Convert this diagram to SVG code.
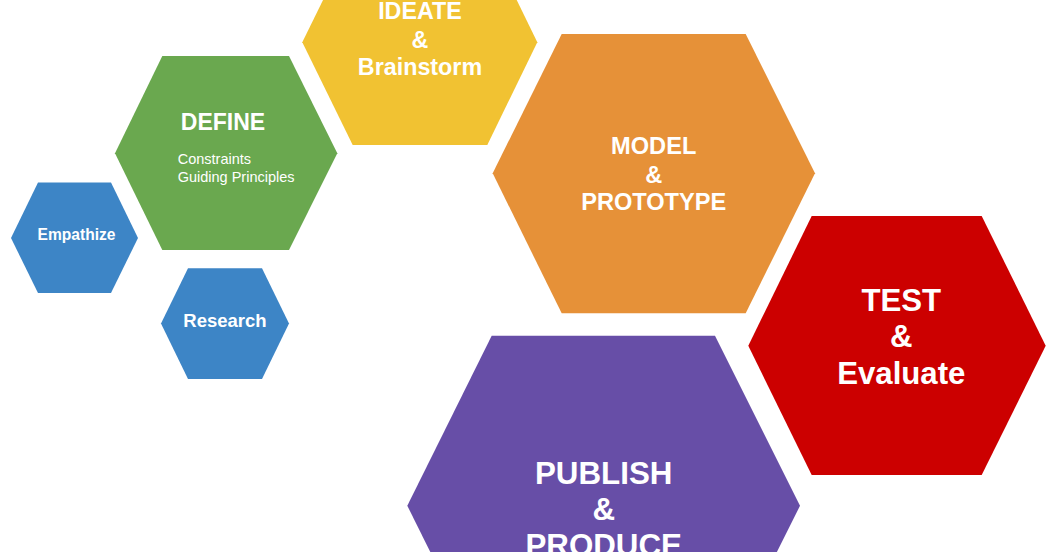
<svg xmlns="http://www.w3.org/2000/svg" width="1052" height="552" viewBox="0 0 1052 552">
  <style>
    text { font-family: "Liberation Sans", Arial, sans-serif; fill: #ffffff; }
    .b { font-weight: bold; text-anchor: middle; }
    .sub { font-size: 14.5px; }
    .blue { fill: #3d85c6; }
    .green { fill: #6aa84f; }
    .yellow { fill: #f1c232; }
    .orange { fill: #e69138; }
    .red { fill: #cc0000; }
    .purple { fill: #674ea7; }
  </style>
  <rect width="1052" height="552" fill="#ffffff"/>

  <g id="empathize">
    <polygon class="blue" points="11,238 38,182.5 111,182.5 138,238 111,293 38,293"/>
    <text class="b" x="76.5" y="240" font-size="15.6">Empathize</text>
  </g>

  <g id="research">
    <polygon class="blue" points="161,323.5 188,268.3 262,268.3 289,323.5 262,379 188,379"/>
    <text class="b" x="225" y="327.3" font-size="18.5">Research</text>
  </g>

  <g id="define">
    <polygon class="green" points="115,153.3 162.3,56 289,56 337.3,153.3 289,250 162.3,250"/>
    <text class="b" x="223" y="130" font-size="23">DEFINE</text>
    <text class="sub" x="177.7" y="164">Constraints</text>
    <text class="sub" x="177.7" y="181.7">Guiding Principles</text>
  </g>

  <g id="ideate">
    <polygon class="yellow" points="302.3,42.3 352.7,-60.4 487.3,-60.4 537.3,42.3 487.3,145 352.7,145"/>
    <text class="b" x="420" y="19" font-size="23.3">IDEATE</text>
    <text class="b" x="420" y="47.7" font-size="23.3">&amp;</text>
    <text class="b" x="420" y="75" font-size="23.3">Brainstorm</text>
  </g>

  <g id="model">
    <polygon class="orange" points="492.7,173.3 561.7,34 745.7,34 815,173.3 745.7,313.3 561.7,313.3"/>
    <text class="b" x="653.7" y="154.3" font-size="23.6">MODEL</text>
    <text class="b" x="653.7" y="182.7" font-size="23.6">&amp;</text>
    <text class="b" x="653.7" y="210" font-size="23.6">PROTOTYPE</text>
  </g>

  <g id="test">
    <polygon class="red" points="748.3,345.7 811.7,216 981.7,216 1045.7,345.7 981.7,475 811.7,475"/>
    <text class="b" x="901.3" y="310.7" font-size="31.2">TEST</text>
    <text class="b" x="901.3" y="347.3" font-size="31.2">&amp;</text>
    <text class="b" x="901.3" y="384" font-size="31.2">Evaluate</text>
  </g>

  <g id="publish">
    <polygon class="purple" points="407.3,505.7 491.7,335.7 715,335.7 800,505.7 715,675.7 491.7,675.7"/>
    <text class="b" x="603.7" y="484" font-size="31.3">PUBLISH</text>
    <text class="b" x="603.7" y="520" font-size="31.3">&amp;</text>
    <text class="b" x="603.7" y="556.3" font-size="31.3">PRODUCE</text>
  </g>
</svg>
